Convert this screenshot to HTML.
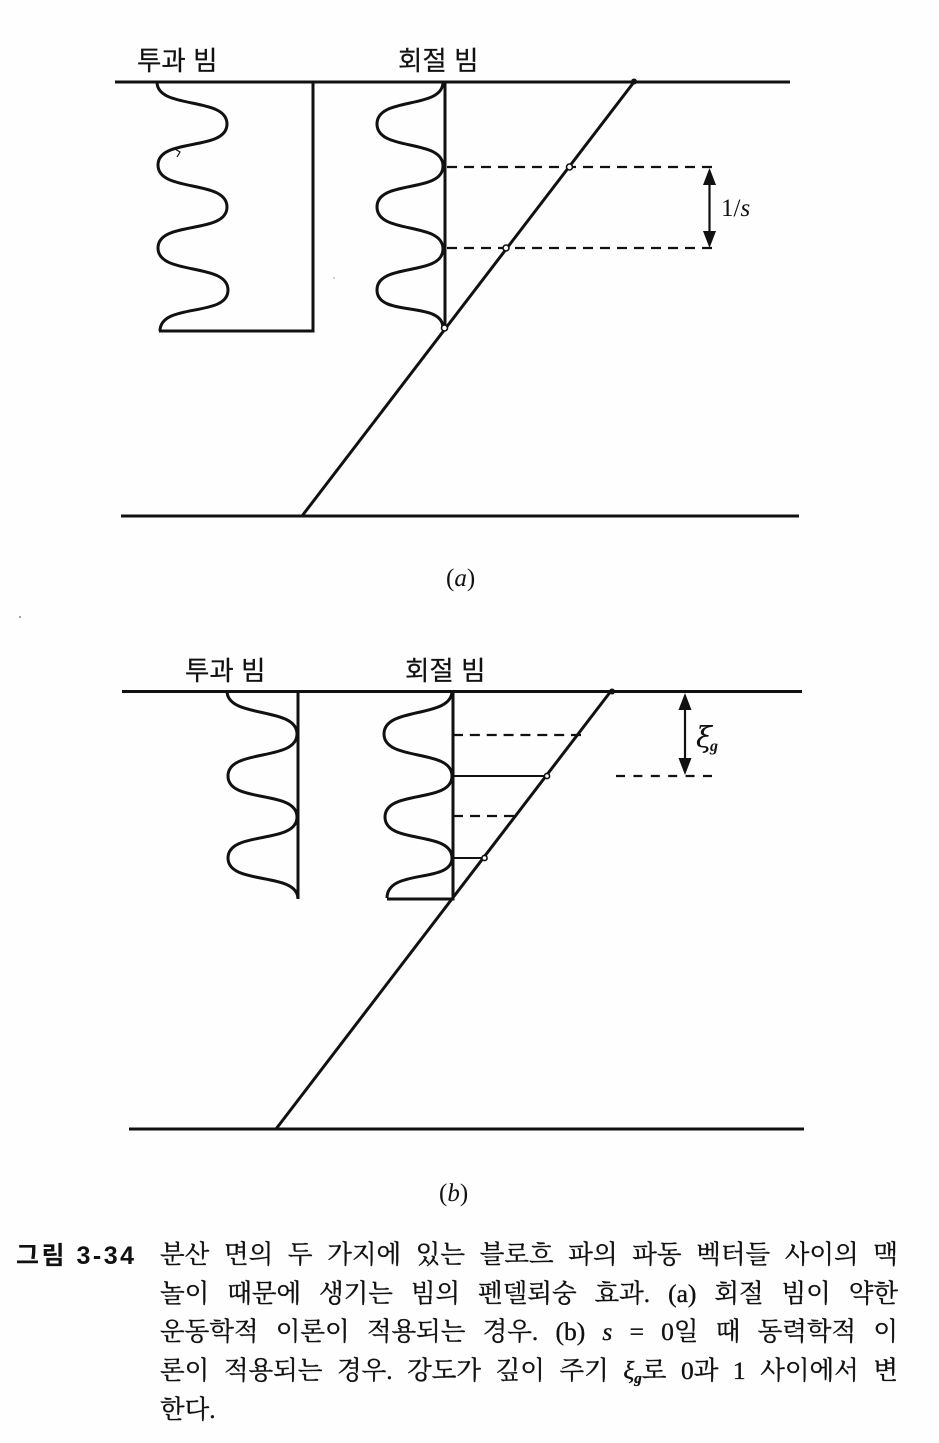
<!DOCTYPE html>
<html lang="ko"><head><meta charset="utf-8"><style>
html,body{margin:0;padding:0;background:#fefefe}
#p{position:relative;width:939px;height:1443px;overflow:hidden;background:#fefefe}
svg{position:absolute;left:0;top:0}
.l{position:absolute;left:160px;width:738px;height:30px;line-height:30px;font-family:"Liberation Serif","Noto Serif CJK SC",serif;font-size:25.500px;color:#111;-webkit-text-stroke:0.35px #111;text-align:justify;text-align-last:justify;white-space:normal}
i{font-style:italic}
sub{font-size:15px;line-height:0;vertical-align:-4px;font-weight:bold}
</style></head><body><div id="p">
<svg width="939" height="1443" viewBox="0 0 939 1443" fill="none" stroke="#111" stroke-width="3">
<path d="M115 82H790M121 516H799M634 82L302 516M313 82V331H159"/>
<path d="M445 82V330"/>
<path d="M157 82C157 110 227 96 227 124C227 152 158 137 158 165C158 193 227 179 227 207C227 235 158 220 158 248C158 276 228 262 228 290C228 318 160 302 160 331"/>
<path d="M175 149L180 152L177 157" stroke-width="1.200"/>
<path d="M443 82C443 110 377 96 377 124C377 152 443 138 443 166C443 194 377 179 377 207C377 235 443 221 443 249C443 277 377 262 377 290C377 318 443 300 443 328"/>
<path d="M447 167H712M447 248H712" stroke-width="2.200" stroke-dasharray="10 7"/>
<path d="M709.500 175V240" stroke-width="2.200"/>
<path d="M709.500 168L716 185H703ZM709.500 248L716 231H703Z" fill="#111" stroke="none"/>
<circle cx="569.500" cy="167" r="3" fill="#fff" stroke-width="1.600"/>
<circle cx="506" cy="248" r="3" fill="#fff" stroke-width="1.600"/>
<circle cx="444.500" cy="328" r="3" fill="#fff" stroke-width="1.600"/>
<circle cx="634" cy="81.500" r="3" fill="#111" stroke="none"/>

<path d="M122 691.500H802M129 1129H804M611 691L276 1129"/>
<path d="M298 691V899M453 691V899H387"/>
<path d="M227 691C227 719 297 706 297 734C297 762 228 748 228 776C228 804 297 789 297 817C297 845 228 830 228 858C228 886 298 871 298 899"/>
<path d="M452 691C452 719 384 706 384 734C384 762 452 748 452 776C452 804 385 789 385 817C385 845 452 830 452 858C452 884 387 868 387 898"/>
<path d="M453 735H581" stroke-width="2.200" stroke-dasharray="10 6.860"/>
<path d="M453 816H514" stroke-width="2.200" stroke-dasharray="10 7"/>
<path d="M616 776H712" stroke-width="2.200" stroke-dasharray="9 8.400"/>
<path d="M453 776H547M453 858H484" stroke-width="2"/>
<path d="M685 700V768" stroke-width="2.200"/>
<path d="M685 693L691.500 710H678.500ZM685 775L691.500 758H678.500Z" fill="#111" stroke="none"/>
<circle cx="547" cy="776" r="2.600" fill="#fff" stroke-width="1.600"/>
<circle cx="484.500" cy="858" r="2.600" fill="#fff" stroke-width="1.600"/>
<circle cx="612" cy="691.500" r="3" fill="#111" stroke="none"/>

<g stroke="#111" stroke-width="0.200" fill="#111" font-family="'Liberation Sans','Noto Sans CJK KR',sans-serif" font-size="26.500">
<text x="137" y="70">투과 빔</text>
<text x="398" y="70">회절 빔</text>
<text x="185" y="680">투과 빔</text>
<text x="405" y="680">회절 빔</text>
</g>
<g stroke="none" fill="#111" font-family="'Liberation Serif',serif">
<text x="721" y="216" font-size="25">1/<tspan font-style="italic">s</tspan></text>
<text x="446" y="586" font-size="25">(<tspan font-style="italic">a</tspan>)</text>
<text x="439" y="1201" font-size="25">(<tspan font-style="italic">b</tspan>)</text>
<text x="696" y="747" font-size="29" font-family="'DejaVu Serif',serif" font-style="italic">ξ</text>
<text x="710" y="751" font-size="16" font-style="italic" font-weight="bold">g</text>
</g>
<text x="16" y="1264" stroke="none" fill="#111" font-family="'Liberation Sans','Noto Sans CJK KR',sans-serif" font-size="25" font-weight="bold" textLength="118">그림 3-34</text>
<circle cx="20" cy="617" r="1" fill="#888" stroke="none"/>
<circle cx="334" cy="278" r="0.800" fill="#999" stroke="none"/>
</svg>
<div class="l" style="top:1240px">분산 면의 두 가지에 있는 블로흐 파의 파동 벡터들 사이의 맥</div>
<div class="l" style="top:1279px">놀이 때문에 생기는 빔의 펜델뢰숭 효과. (a) 회절 빔이 약한</div>
<div class="l" style="top:1317px">운동학적 이론이 적용되는 경우. (b) <i>s</i> = 0일 때 동력학적 이</div>
<div class="l" style="top:1356px">론이 적용되는 경우. 강도가 깊이 주기 <i>ξ<sub>g</sub></i>로 0과 1 사이에서 변</div>
<div class="l" style="top:1395px;text-align-last:left">한다.</div>
</div></body></html>
